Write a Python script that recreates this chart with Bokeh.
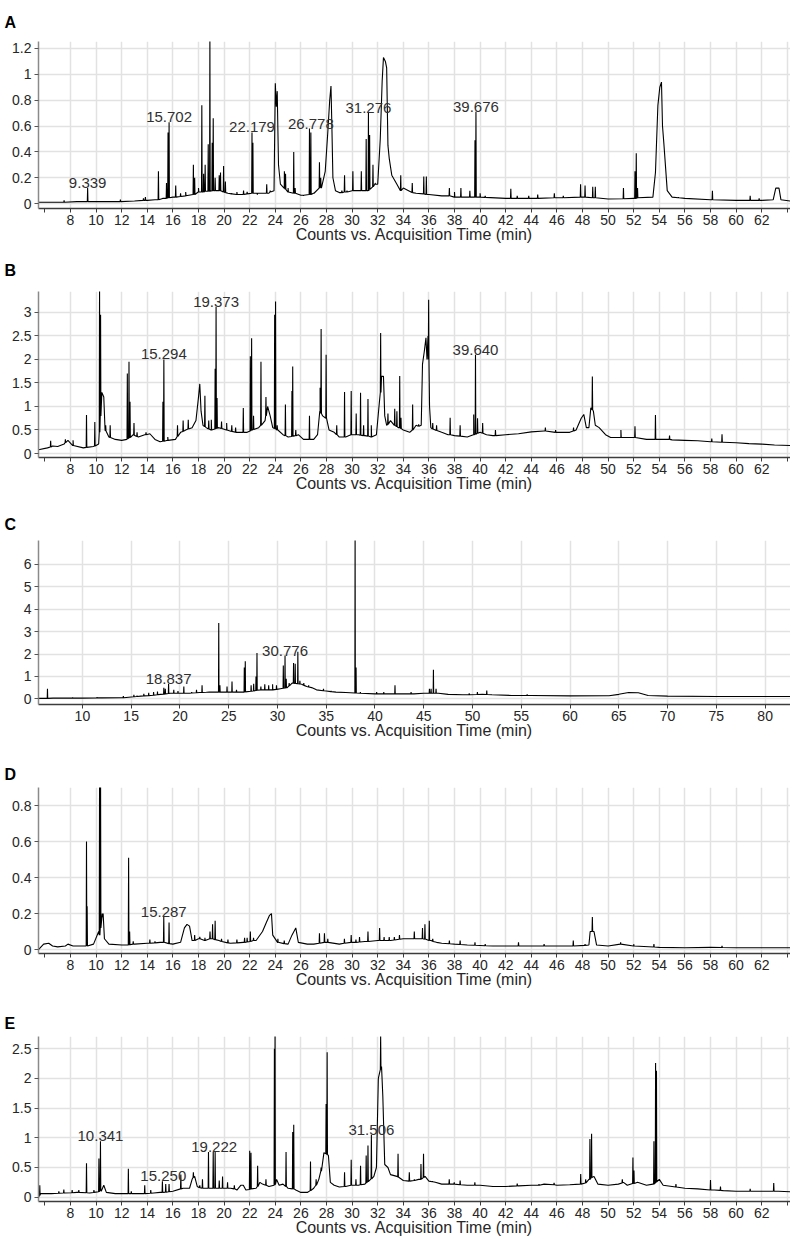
import numpy as np
from bokeh.plotting import figure
from bokeh.layouts import column
from bokeh.models import FixedTicker, CustomJSTickFormatter, Range1d
from bokeh.core.properties import value
from bokeh.embed import file_html
from bokeh.resources import INLINE

FONT = "Liberation Sans"

# ---------------- DATA ----------------
# Panel A
a_base_t = [5.5, 7.0, 8.5, 10.0, 11.5, 13.0, 14.0, 14.6, 15.2, 16.0, 17.0, 18.0, 19.5, 20.3, 21.0, 22.5, 23.5,
            23.9, 24.0, 24.08, 24.15, 24.25, 24.4, 24.7, 25.0, 26.0, 27.0, 27.6, 27.9, 28.1, 28.25, 28.35, 28.42,
            28.5, 28.7, 29.0, 30.0, 31.0, 31.8, 32.0, 32.2, 32.35, 32.45, 32.6, 32.7, 32.8, 32.9, 33.1, 33.5, 34.0,
            35.0, 36.0, 37.0, 38.0, 40.0, 42.0, 44.0, 46.0, 48.0, 50.0, 52.0, 53.5, 53.7, 53.89, 54.04, 54.17,
            54.25, 54.36, 54.62, 55.0, 56.0, 58.0, 60.0, 62.0, 62.9, 63.1, 63.35, 63.5, 64.25]
a_base_y = [0.01, 0.01, 0.015, 0.015, 0.015, 0.02, 0.025, 0.03, 0.04, 0.05, 0.06, 0.09, 0.1, 0.08, 0.07, 0.08, 0.08,
            0.1, 0.93, 0.75, 0.87, 0.3, 0.15, 0.12, 0.09, 0.065, 0.08, 0.12, 0.25, 0.55, 0.8, 0.91, 0.6,
            0.2, 0.1, 0.085, 0.1, 0.1, 0.15, 0.15, 0.5, 0.95, 1.13, 1.1, 1.05, 0.45, 0.35, 0.22, 0.15, 0.12,
            0.08, 0.07, 0.06, 0.05, 0.05, 0.04, 0.04, 0.045, 0.05, 0.035, 0.04, 0.05, 0.24, 0.76, 0.9, 0.94,
            0.6, 0.46, 0.1, 0.05, 0.04, 0.03, 0.025, 0.025, 0.03, 0.12, 0.12, 0.03, 0.02]
a_peak_t = [7.5, 9.339, 11.9, 13.7, 13.85, 14.87, 15.5, 15.62, 15.702, 16.22, 16.6, 17.0, 17.6, 17.7, 18.0, 18.26,
            18.4, 18.52, 18.76, 18.89, 19.07, 19.15, 19.3, 19.62, 19.72, 19.96, 20.1, 20.6, 21.0, 21.52, 21.8,
            22.179, 22.25, 22.6, 23.33, 23.6, 24.71, 24.8, 25.0, 25.44, 25.55, 26.2, 26.67, 26.778, 27.0, 27.45,
            27.55, 29.2, 29.41, 29.6, 30.06, 30.3, 30.72, 31.1, 31.276, 31.37, 31.63, 31.8, 33.8, 34.7, 35.6,
            35.8, 37.6, 38.0, 38.5, 39.2, 39.6, 39.676, 40.0, 40.4, 42.4, 42.9, 43.8, 44.5, 45.8, 46.5, 47.85,
            48.2, 48.8, 49.0, 51.2, 52.1, 52.2, 52.3, 55.5, 58.15, 61.1, 61.8]
a_peak_top = [0.025, 0.12, 0.03, 0.04, 0.05, 0.25, 0.16, 0.55, 0.63, 0.14, 0.08, 0.09, 0.30, 0.2, 0.12, 0.76,
              0.23, 0.30, 0.46, 1.30, 0.47, 0.66, 0.2, 0.22, 0.24, 0.29, 0.17, 0.08, 0.09, 0.10, 0.09,
              0.55, 0.47, 0.07, 0.15, 0.1, 0.25, 0.23, 0.12, 0.40, 0.12, 0.06, 0.58, 0.55, 0.08, 0.32,
              0.2, 0.1, 0.22, 0.1, 0.25, 0.1, 0.25, 0.50, 0.70, 0.53, 0.30, 0.16, 0.22, 0.16, 0.21,
              0.21, 0.12, 0.09, 0.12, 0.10, 0.49, 0.71, 0.08, 0.06, 0.115, 0.06, 0.06, 0.07, 0.08, 0.06, 0.15,
              0.14, 0.13, 0.13, 0.12, 0.25, 0.39, 0.12, 0.05, 0.10, 0.06, 0.04]
a_peak_foot = [0.01, 0.015, 0.015, 0.025, 0.025, 0.03, 0.04, 0.045, 0.045, 0.05, 0.055, 0.06, 0.07, 0.07, 0.09,
               0.09, 0.09, 0.095, 0.095, 0.095, 0.1, 0.1, 0.1, 0.1, 0.1, 0.09, 0.085, 0.075, 0.07, 0.07, 0.075,
               0.08, 0.08, 0.08, 0.08, 0.09, 0.12, 0.11, 0.09, 0.08, 0.08, 0.065, 0.07, 0.07, 0.08, 0.12,
               0.13, 0.085, 0.09, 0.09, 0.1, 0.1, 0.1, 0.1, 0.1, 0.11, 0.13, 0.15, 0.1, 0.085, 0.075,
               0.07, 0.06, 0.05, 0.05, 0.05, 0.05, 0.05, 0.05, 0.048, 0.04, 0.04, 0.04, 0.04, 0.045, 0.045, 0.05,
               0.05, 0.045, 0.045, 0.037, 0.04, 0.04, 0.045, 0.045, 0.03, 0.025, 0.025]
a_label_t = [9.339, 15.702, 22.179, 26.778, 31.276, 39.676]
a_label_y = [0.12, 0.63, 0.55, 0.58, 0.70, 0.71]

# Panel B
b_base_t = [5.5, 6.2, 6.6, 7.0, 7.5, 7.8, 8.2, 9.0, 9.8, 10.2, 10.45, 10.6, 10.7, 11.0, 11.5, 12.0, 12.4, 12.9,
            13.3, 13.8, 14.2, 14.6, 15.0, 15.6, 16.2, 16.6, 17.0, 17.5, 17.8, 18.0, 18.1, 18.2, 18.35, 18.6, 19.0,
            19.6, 20.2, 21.0, 21.8, 22.2, 22.7, 23.2, 23.4, 23.6, 23.8, 24.2, 24.6, 25.0, 25.8, 26.2, 27.0, 27.3,
            27.5, 27.7, 28.0, 28.2, 28.6, 29.0, 29.5, 30.0, 30.5, 31.0, 31.5, 31.9, 32.1, 32.3, 32.45, 32.55,
            32.7, 33.0, 33.3, 33.6, 34.0, 34.5, 35.0, 35.4, 35.5, 35.64, 35.77, 35.85, 35.93, 36.05, 36.15, 36.5,
            37.0, 37.5, 38.0, 39.0, 39.5, 40.0, 40.5, 41.0, 42.0, 43.0, 44.0, 45.0, 46.0, 47.0, 47.5, 47.9, 48.1,
            48.3, 48.5, 48.65, 48.85, 49.0, 49.3, 49.8, 50.2, 51.0, 52.0, 53.0, 54.0, 55.0, 56.0, 57.0, 58.0,
            59.0, 60.0, 61.0, 62.0, 63.0, 64.25]
b_base_y = [0.08, 0.12, 0.16, 0.15, 0.2, 0.28, 0.17, 0.12, 0.15, 0.2, 1.3, 1.2, 0.5, 0.35, 0.3, 0.28, 0.3, 0.4,
            0.35, 0.4, 0.42, 0.3, 0.25, 0.28, 0.3, 0.45, 0.5, 0.55, 0.7, 1.2, 1.48, 0.9, 0.6, 0.55, 0.5,
            0.55, 0.5, 0.45, 0.45, 0.5, 0.55, 0.7, 1.0, 0.8, 0.55, 0.5, 0.4, 0.35, 0.4, 0.3, 0.3, 0.4,
            0.9, 0.8, 0.75, 0.5, 0.45, 0.35, 0.35, 0.4, 0.4, 0.38, 0.35, 0.4, 1.0, 1.64, 1.64, 0.8,
            0.6, 0.7, 0.6, 0.55, 0.5, 0.45, 0.6, 0.6, 1.9, 2.17, 2.46, 2.0, 2.5, 1.0, 0.55, 0.5,
            0.45, 0.4, 0.38, 0.35, 0.4, 0.45, 0.4, 0.38, 0.4, 0.42, 0.46, 0.48, 0.45, 0.45, 0.5, 0.75, 0.83,
            0.55, 0.55, 0.97, 0.9, 0.6, 0.55, 0.4, 0.34, 0.34, 0.34, 0.3, 0.3, 0.29, 0.28, 0.27, 0.25,
            0.24, 0.23, 0.21, 0.2, 0.18, 0.17]
b_peak_t = [6.45, 7.6, 8.2, 9.25, 9.9, 10.27, 10.35, 10.75, 11.1, 12.44, 12.57, 12.65, 12.96, 13.2, 13.9, 15.22,
            15.294, 15.6, 16.36, 16.8, 17.2, 18.5, 18.8, 19.0, 19.3, 19.373, 19.45, 19.8, 20.2, 20.6, 20.9, 21.5,
            22.05, 22.15, 22.3, 22.88, 23.27, 23.95, 24.02, 24.15, 24.79, 25.3, 25.36, 25.6, 26.67, 27.5, 27.58,
            27.97, 28.8, 29.41, 29.93, 30.32, 30.66, 30.9, 31.24, 31.5, 32.23, 32.8, 33.33, 33.5, 33.72, 33.82,
            34.73, 35.2, 35.98, 36.3, 36.6, 37.66, 38.44, 39.5, 39.64, 39.8, 40.2, 41.2, 45.1, 45.9, 47.3, 48.77,
            51.0, 52.1, 53.7, 54.8, 58.1, 58.9]
b_peak_top = [0.27, 0.3, 0.28, 0.82, 0.67, 3.6, 2.95, 0.6, 0.6, 1.7, 1.95, 1.1, 0.65, 0.45, 0.45, 1.1,
              2.0, 0.35, 0.6, 0.7, 0.72, 1.23, 0.7, 0.72, 1.8, 3.12, 1.18, 0.68, 0.65, 0.6, 0.55, 0.97,
              2.07, 2.45, 0.8, 1.95, 1.2, 2.95, 3.23, 0.6, 1.04, 1.33, 1.85, 0.5, 0.8, 1.4, 2.65,
              2.1, 0.6, 1.31, 1.33, 0.85, 1.29, 0.6, 1.16, 0.6, 2.56, 0.85, 0.95, 0.9, 1.65, 0.76,
              1.04, 0.62, 3.27, 0.65, 0.6, 0.76, 0.6, 0.83, 2.1, 0.75, 0.65, 0.5, 0.55, 0.5, 0.55, 1.64,
              0.5, 0.58, 0.82, 0.38, 0.32, 0.41]
b_peak_foot = [0.14, 0.23, 0.17, 0.13, 0.16, 0.45, 0.8, 0.48, 0.34, 0.31, 0.33, 0.34, 0.39, 0.36, 0.4, 0.26,
               0.26, 0.28, 0.36, 0.47, 0.52, 0.57, 0.52, 0.5, 0.52, 0.53, 0.54, 0.53, 0.5, 0.47, 0.45, 0.45,
               0.48, 0.5, 0.51, 0.6, 0.8, 0.53, 0.52, 0.5, 0.38, 0.36, 0.37, 0.38, 0.3, 0.9, 0.85,
               0.75, 0.4, 0.35, 0.4, 0.4, 0.39, 0.38, 0.37, 0.35, 1.3, 0.62, 0.6, 0.57, 0.55, 0.53,
               0.5, 0.58, 2.0, 0.52, 0.49, 0.4, 0.37, 0.4, 0.41, 0.43, 0.43, 0.38, 0.48, 0.45, 0.48, 0.93,
               0.34, 0.34, 0.3, 0.3, 0.25, 0.24]
b_label_t = [15.294, 19.373, 39.640]
b_label_y = [2.0, 3.12, 2.1]

# Panel C
c_base_t = [5.5, 7.0, 10.0, 12.0, 14.0, 15.0, 16.0, 17.0, 18.0, 19.0, 20.0, 21.0, 22.0, 23.0, 24.5, 25.5, 26.5,
            27.5, 28.5, 29.5, 30.3, 31.0, 31.5, 32.5, 33.0, 33.5, 34.0, 35.0, 36.0, 37.0, 38.5, 40.0, 42.0, 44.0,
            45.0, 46.5, 47.5, 49.0, 51.0, 52.0, 54.0, 56.0, 60.0, 64.0, 65.0, 66.0, 67.0, 68.0, 70.0, 75.0, 82.6]
c_base_y = [0.02, 0.03, 0.03, 0.04, 0.05, 0.08, 0.12, 0.15, 0.2, 0.25, 0.25, 0.25, 0.28, 0.3, 0.3, 0.3, 0.3,
            0.35, 0.4, 0.4, 0.45, 0.5, 0.7, 0.65, 0.55, 0.5, 0.4, 0.35, 0.3, 0.28, 0.25, 0.22, 0.22, 0.22,
            0.25, 0.25, 0.2, 0.18, 0.2, 0.18, 0.15, 0.15, 0.13, 0.14, 0.2, 0.28, 0.27, 0.15, 0.12, 0.1, 0.1]
c_peak_t = [6.42, 9.0, 11.5, 14.2, 15.28, 15.6, 16.3, 16.8, 17.3, 17.7, 18.35, 18.5, 18.837, 19.37, 19.8, 20.4,
            21.2, 21.7, 22.27, 22.75, 23.98, 24.1, 24.83, 25.34, 25.8, 26.6, 26.7, 27.3, 27.56, 27.8, 27.9, 28.3,
            28.7, 29.1, 29.5, 29.9, 30.6, 30.776, 30.9, 31.2, 31.65, 31.82, 32.09, 32.3, 32.7, 33.2, 34.72, 35.5,
            37.96, 38.06, 38.5, 40.17, 40.9, 42.05, 43.7, 45.58, 45.75, 45.99, 46.26, 49.66, 50.5, 51.46, 55.6]
c_peak_top = [0.45, 0.06, 0.07, 0.12, 0.18, 0.14, 0.22, 0.27, 0.3, 0.32, 0.49, 0.45, 0.67, 0.4, 0.35, 0.55,
              0.3, 0.4, 0.6, 0.3, 3.39, 0.6, 0.55, 0.77, 0.4, 1.4, 1.68, 0.6, 0.67, 1.0, 2.05, 0.55,
              0.65, 0.6, 0.65, 0.6, 1.49, 1.93, 0.9, 0.7, 1.6, 1.56, 2.1, 0.8, 0.7, 0.6, 0.45, 0.35,
              7.5, 1.4, 0.3, 0.3, 0.3, 0.6, 0.3, 0.45, 0.45, 1.3, 0.45, 0.25, 0.3, 0.37, 0.2]
c_peak_foot = [0.02, 0.03, 0.04, 0.05, 0.09, 0.1, 0.13, 0.14, 0.16, 0.18, 0.21, 0.22, 0.24, 0.25, 0.25, 0.25,
               0.26, 0.27, 0.28, 0.29, 0.3, 0.3, 0.3, 0.3, 0.3, 0.3, 0.31, 0.34, 0.35, 0.37, 0.38, 0.4,
               0.4, 0.4, 0.4, 0.42, 0.47, 0.48, 0.49, 0.58, 0.7, 0.69, 0.67, 0.66, 0.6, 0.53, 0.36, 0.32,
               0.26, 0.26, 0.25, 0.22, 0.22, 0.22, 0.22, 0.25, 0.25, 0.25, 0.25, 0.18, 0.19, 0.19, 0.15]
c_label_t = [18.837, 30.776]
c_label_y = [0.67, 1.93]

# Panel D
d_base_t = [5.5, 5.9, 6.3, 6.6, 7.0, 7.6, 7.8, 8.2, 9.0, 9.8, 10.2, 10.55, 10.65, 11.0, 12.0, 13.0, 14.0, 15.0,
            16.0, 16.6, 16.9, 17.1, 17.3, 17.5, 18.0, 18.5, 19.0, 19.6, 20.5, 21.5, 22.5, 23.0, 23.3, 23.55, 23.7,
            23.8, 24.2, 25.0, 25.3, 25.6, 25.8, 26.5, 27.0, 28.0, 29.0, 30.0, 31.0, 32.0, 33.0, 34.0, 35.0, 36.2,
            36.6, 37.0, 38.0, 39.0, 41.0, 44.0, 47.0, 48.5, 48.6, 48.9, 49.1, 50.0, 51.0, 52.0, 54.0, 56.0, 58.0,
            60.0, 64.25]
d_base_y = [0.0, 0.03, 0.035, 0.02, 0.015, 0.02, 0.03, 0.02, 0.02, 0.03, 0.1, 0.2, 0.06, 0.03, 0.025, 0.03, 0.035,
            0.04, 0.03, 0.04, 0.12, 0.14, 0.13, 0.05, 0.06, 0.05, 0.06, 0.05, 0.035, 0.04, 0.05, 0.1, 0.15, 0.19,
            0.2, 0.08, 0.04, 0.03, 0.08, 0.12, 0.04, 0.03, 0.03, 0.04, 0.03, 0.04, 0.045, 0.05, 0.05, 0.06, 0.06,
            0.05, 0.04, 0.035, 0.03, 0.025, 0.02, 0.02, 0.02, 0.025, 0.1, 0.1, 0.025, 0.02, 0.03, 0.02, 0.012,
            0.01, 0.012, 0.01, 0.01]
d_peak_t = [9.25, 9.3, 10.27, 10.35, 10.48, 12.54, 12.62, 12.9, 14.2, 14.6, 15.287, 15.7, 17.7, 18.1, 18.5, 18.9,
            19.1, 19.3, 19.8, 20.3, 21.0, 21.6, 21.8, 22.05, 22.3, 24.2, 24.7, 27.45, 27.84, 28.1, 29.4, 29.93,
            30.3, 30.58, 31.24, 32.15, 32.5, 32.9, 33.3, 33.7, 34.86, 35.5, 35.69, 36.03, 36.3, 37.6, 38.44, 39.6,
            40.4, 43.0, 45.0, 47.28, 48.2, 48.77, 50.98, 52.0, 53.58, 58.9]
d_peak_top = [0.60, 0.24, 0.95, 0.91, 0.2, 0.51, 0.1, 0.045, 0.055, 0.045, 0.18, 0.15, 0.08, 0.07, 0.065, 0.1,
              0.14, 0.16, 0.06, 0.055, 0.055, 0.065, 0.065, 0.1, 0.065, 0.06, 0.05, 0.09, 0.09, 0.06, 0.06, 0.08,
              0.055, 0.07, 0.1, 0.12, 0.07, 0.07, 0.07, 0.08, 0.1, 0.12, 0.14, 0.16, 0.06, 0.05, 0.05, 0.04,
              0.03, 0.04, 0.03, 0.05, 0.03, 0.18, 0.04, 0.03, 0.03, 0.02]
d_peak_foot = [0.02, 0.02, 0.08, 0.12, 0.18, 0.025, 0.027, 0.03, 0.035, 0.037, 0.04, 0.033, 0.05, 0.06, 0.05, 0.06,
               0.06, 0.055, 0.045, 0.037, 0.037, 0.04, 0.042, 0.045, 0.05, 0.04, 0.033, 0.035, 0.04, 0.04, 0.035,
               0.04, 0.04, 0.042, 0.045, 0.05, 0.05, 0.05, 0.053, 0.057, 0.06, 0.06, 0.058, 0.05, 0.045, 0.032,
               0.028, 0.024, 0.021, 0.02, 0.02, 0.02, 0.023, 0.1, 0.03, 0.02, 0.014, 0.011]
d_label_t = [15.287]
d_label_y = [0.18]

# Panel E
e_base_t = [5.5, 5.65, 6.5, 7.5, 8.5, 9.5, 10.4, 10.6, 10.8, 11.5, 12.5, 13.5, 14.5, 15.0, 16.0, 16.8, 17.3, 17.5,
            17.7, 17.9, 18.5, 19.5, 20.5, 21.0, 21.3, 21.5, 21.7, 22.5, 22.8, 23.0, 23.5, 23.9, 24.1, 24.3, 24.6,
            25.0, 25.6, 26.0, 26.5, 27.0, 27.4, 27.6, 27.8, 28.15, 28.3, 28.6, 29.0, 29.5, 30.0, 30.5, 31.0, 31.7,
            31.9, 32.05, 32.15, 32.3, 32.4, 32.55, 32.8, 33.0, 33.5, 34.0, 34.5, 35.2, 35.7, 36.0, 36.5, 37.0,
            38.0, 39.0, 40.0, 41.0, 42.0, 43.0, 44.0, 45.0, 46.0, 47.0, 47.8, 48.5, 48.9, 49.2, 50.0, 50.8, 51.2,
            51.5, 52.3, 53.0, 53.5, 54.0, 54.3, 55.0, 56.0, 57.0, 58.3, 59.0, 60.0, 62.0, 63.3, 64.25]
e_base_y = [0.0, 0.06, 0.06, 0.07, 0.08, 0.07, 0.1, 0.2, 0.08, 0.06, 0.06, 0.06, 0.07, 0.08, 0.1, 0.15, 0.15, 0.3,
            0.35, 0.18, 0.15, 0.15, 0.15, 0.12, 0.2, 0.2, 0.12, 0.15, 0.25, 0.22, 0.18, 0.2, 0.3, 0.2, 0.22,
            0.15, 0.12, 0.08, 0.08, 0.15, 0.3, 0.45, 0.75, 0.7, 0.25, 0.2, 0.17, 0.18, 0.2, 0.2, 0.22, 0.35,
            0.5, 2.0, 2.1, 2.2, 1.7, 0.55, 0.5, 0.38, 0.35, 0.28, 0.27, 0.3, 0.35, 0.27, 0.25, 0.22,
            0.22, 0.2, 0.2, 0.18, 0.18, 0.19, 0.2, 0.22, 0.2, 0.21, 0.22, 0.3, 0.35, 0.22, 0.2, 0.22, 0.25,
            0.2, 0.25, 0.2, 0.22, 0.3, 0.2, 0.18, 0.15, 0.14, 0.12, 0.11, 0.1, 0.1, 0.1, 0.09]
e_peak_t = [5.6, 7.09, 7.48, 8.13, 8.65, 9.25, 9.83, 10.22, 10.341, 12.52, 12.75, 13.8, 14.27, 15.18, 15.44, 15.7,
            16.62, 17.6, 18.1, 18.31, 18.78, 19.15, 19.3, 19.62, 19.88, 20.27, 20.8, 22.0, 22.1, 22.62, 23.27,
            23.93, 23.98, 24.84, 25.36, 25.44, 26.75, 27.19, 27.58, 27.97, 28.05, 29.41, 29.93, 30.3, 30.66, 31.1,
            31.24, 31.506, 32.23, 33.59, 34.47, 34.86, 35.38, 35.58, 36.29, 37.59, 37.98, 38.44, 39.59, 42.9,
            44.6, 45.78, 47.86, 48.25, 48.58, 48.71, 51.11, 51.94, 52.02, 53.58, 53.71, 53.78, 55.3, 58.0, 58.78,
            61.1, 62.94]
e_peak_top = [0.2, 0.1, 0.13, 0.12, 0.12, 0.57, 0.12, 0.65, 0.94, 0.48, 0.1, 0.2, 0.12, 0.27, 0.22, 0.22,
              0.38, 0.42, 0.2, 0.3, 0.76, 0.76, 0.76, 0.28, 0.35, 0.25, 0.2, 0.78, 0.75, 0.53, 0.3,
              2.5, 2.78, 0.76, 1.1, 1.22, 0.6, 0.3, 0.5, 1.57, 2.44, 0.42, 0.63, 0.3, 0.53, 0.7,
              0.87, 1.05, 2.72, 0.73, 0.42, 0.3, 0.56, 0.73, 0.27, 0.3, 0.25, 0.28, 0.25, 0.23,
              0.22, 0.24, 0.39, 0.3, 0.98, 1.07, 0.3, 0.67, 0.45, 0.94, 2.26, 2.13, 0.22, 0.29, 0.18,
              0.14, 0.24]
e_peak_foot = [0.03, 0.065, 0.07, 0.075, 0.08, 0.075, 0.08, 0.09, 0.12, 0.06, 0.06, 0.06, 0.065, 0.08, 0.085, 0.09,
               0.14, 0.33, 0.16, 0.15, 0.15, 0.15, 0.15, 0.15, 0.15, 0.15, 0.14, 0.13, 0.14, 0.18, 0.2,
               0.2, 0.21, 0.18, 0.14, 0.14, 0.11, 0.2, 0.44, 0.73, 0.72, 0.18, 0.2, 0.2, 0.21, 0.24,
               0.26, 0.31, 2.15, 0.34, 0.27, 0.28, 0.3, 0.33, 0.26, 0.22, 0.22, 0.21, 0.2, 0.19,
               0.2, 0.21, 0.22, 0.24, 0.3, 0.33, 0.24, 0.23, 0.23, 0.22, 0.24, 0.26, 0.17, 0.12, 0.115,
               0.1, 0.1]
e_label_t = [10.341, 15.250, 19.222, 31.506]
e_label_y = [0.94, 0.27, 0.76, 1.05]

# Axis ticks
time_ticks_2 = list(range(6, 65, 2))
time_grid_2 = list(range(8, 65, 2))
time_ticks_5 = list(range(10, 81, 5))
a_yticks = [0, 0.2, 0.4, 0.6, 0.8, 1.0, 1.2]
b_yticks = [0, 0.5, 1.0, 1.5, 2.0, 2.5, 3.0]
c_yticks = [0, 1, 2, 3, 4, 5, 6]
d_yticks = [0, 0.2, 0.4, 0.6, 0.8]
e_yticks = [0, 0.5, 1.0, 1.5, 2.0, 2.5]

x_title = "Counts vs. Acquisition Time (min)"


def build_trace(bt, by, pt, ph, pb, half=0.025):
    xs = list(bt)
    ys = list(by)
    for t, h, b in zip(pt, ph, pb):
        xs += [t - half, t, t + half]
        ys += [b, h, b]
    order = np.argsort(np.array(xs), kind="stable")
    return np.array(xs)[order], np.array(ys)[order]


panels = [
    dict(letter="A", base=(a_base_t, a_base_y), peaks=(a_peak_t, a_peak_top, a_peak_foot),
         labels=(a_label_t, a_label_y), xr=(5.5, 64.25), yr=(-0.038, 1.254),
         xt=time_ticks_2, xg=time_grid_2, yt=a_yticks, h=246, top=40, bottom=38, standoff=22),
    dict(letter="B", base=(b_base_t, b_base_y), peaks=(b_peak_t, b_peak_top, b_peak_foot),
         labels=(b_label_t, b_label_y), xr=(5.5, 64.25), yr=(-0.085, 3.445),
         xt=time_ticks_2, xg=time_grid_2, yt=b_yticks, h=249, top=44, bottom=38, standoff=26),
    dict(letter="C", base=(c_base_t, c_base_y), peaks=(c_peak_t, c_peak_top, c_peak_foot),
         labels=(c_label_t, c_label_y), xr=(5.5, 82.6), yr=(-0.254, 7.07),
         xt=time_ticks_5, xg=time_ticks_5, yt=c_yticks, h=247, top=45, bottom=38, standoff=15),
    dict(letter="D", base=(d_base_t, d_base_y), peaks=(d_peak_t, d_peak_top, d_peak_foot),
         labels=(d_label_t, d_label_y), xr=(5.5, 64.25), yr=(-0.022, 0.9),
         xt=time_ticks_2, xg=time_grid_2, yt=d_yticks, h=249, top=45, bottom=38, standoff=9),
    dict(letter="E", base=(e_base_t, e_base_y), peaks=(e_peak_t, e_peak_top, e_peak_foot),
         labels=(e_label_t, e_label_y), xr=(5.5, 64.25), yr=(-0.073, 2.707),
         xt=time_ticks_2, xg=time_grid_2, yt=e_yticks, h=248, top=45, bottom=38, standoff=10),
]

figs = []
for pn in panels:
    x0, x1 = pn["xr"]
    y0, y1 = pn["yr"]
    p = figure(width=790, height=pn["h"], output_backend="svg", toolbar_location=None,
               x_range=Range1d(x0, x1), y_range=Range1d(y0, y1),
               min_border_left=38, min_border_right=0,
               min_border_top=pn["top"], min_border_bottom=pn["bottom"],
               background_fill_color="white", border_fill_color="white",
               title=pn["letter"])
    p.outline_line_color = None
    p.title.align = "left"
    p.title.offset = -34
    p.title.standoff = pn["standoff"]
    p.title.text_font = FONT
    p.title.text_font_size = "16px"
    p.title.text_font_style = "bold"
    p.title.text_color = "black"

    p.xaxis.ticker = FixedTicker(ticks=pn["xt"])
    if pn["xt"] is time_ticks_2:
        p.xaxis.formatter = CustomJSTickFormatter(code="return (tick < 7 || tick > 63) ? '' : String(tick);")
    else:
        p.xaxis.formatter = CustomJSTickFormatter(code="return String(tick);")
    p.yaxis.ticker = FixedTicker(ticks=pn["yt"])
    p.yaxis.formatter = CustomJSTickFormatter(code="return String(Math.round(tick * 10) / 10);")
    p.xgrid.ticker = FixedTicker(ticks=pn["xg"])
    p.ygrid.ticker = FixedTicker(ticks=pn["yt"])

    for g in (p.xgrid, p.ygrid):
        g.grid_line_color = "#e2e2e2"
        g.grid_line_width = 1.5

    for ax in (p.xaxis, p.yaxis):
        ax.major_label_text_font = FONT
        ax.major_label_text_font_size = "14px"
        ax.major_label_text_color = "#262626"
        ax.major_tick_in = 0
        ax.major_tick_out = 4
        ax.minor_tick_line_color = None
        ax.axis_line_width = 1.5
    p.xaxis.axis_line_color = "#3c3c3c"
    p.xaxis.major_tick_line_color = "#3c3c3c"
    p.xaxis.major_label_standoff = 2
    p.xaxis.axis_label = x_title
    p.xaxis.axis_label_text_font = FONT
    p.xaxis.axis_label_text_font_size = "16px"
    p.xaxis.axis_label_text_font_style = "normal"
    p.xaxis.axis_label_text_color = "#262626"
    p.xaxis.axis_label_standoff = -2
    p.yaxis.axis_line_color = "#8a8a8a"
    p.yaxis.major_tick_line_color = "#555555"
    p.yaxis.major_label_standoff = 3

    tx, ty = build_trace(pn["base"][0], pn["base"][1], *pn["peaks"])
    p.line(tx, ty, line_color="black", line_width=1.1)

    lt, ly = pn["labels"]
    p.text(x=lt, y=ly, text=["%.3f" % t for t in lt], text_font=value(FONT), text_font_size="15px",
           text_align="center", text_baseline="bottom", text_color="#303030")
    figs.append(p)

layout = column(*figs, spacing=0)
open("out.html", "w").write(file_html(layout, INLINE))
